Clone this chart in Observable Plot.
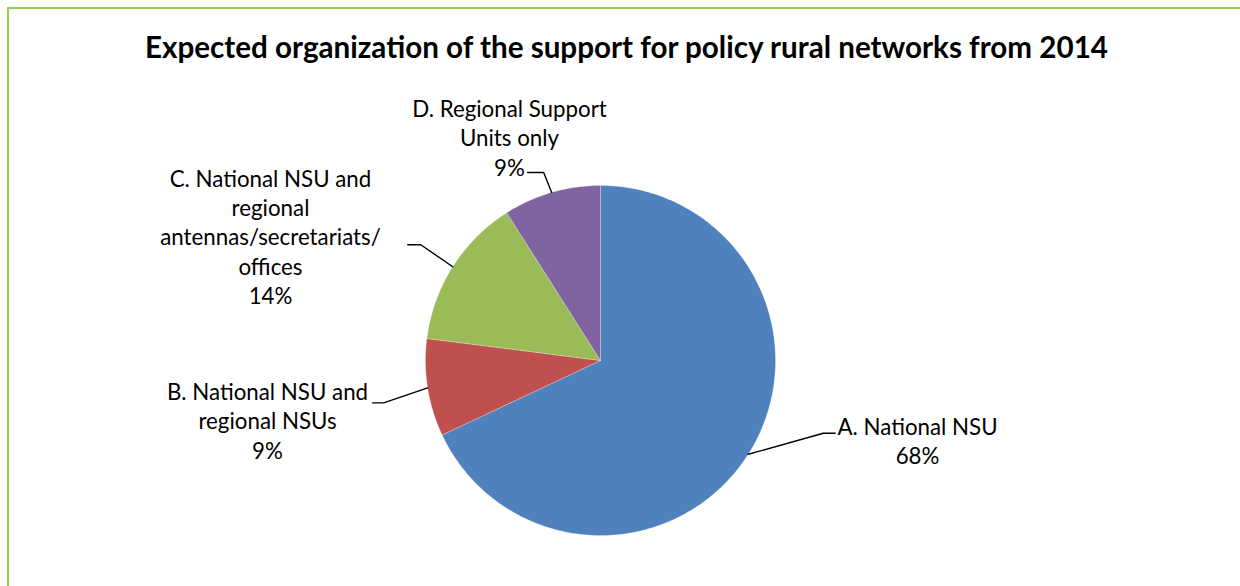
<!DOCTYPE html>
<html><head><meta charset="utf-8">
<script src="https://cdn.jsdelivr.net/npm/d3@7"></script>
<script src="https://cdn.jsdelivr.net/npm/@observablehq/plot@0.6"></script>
<style>
html,body{margin:0;padding:0;background:#fff;overflow:hidden;}
#wrap{position:relative;width:1240px;height:586px;overflow:hidden;font-family:Lato,sans-serif;}
#frame{position:absolute;left:7px;top:7px;width:1400px;height:800px;border:2px solid #92D050;box-sizing:border-box;pointer-events:none;}
#title{height:80px;box-sizing:border-box;padding-top:29px;padding-left:13px;text-align:center;font-weight:bold;font-size:29.6px;color:#000;line-height:36px;white-space:nowrap;}
#chart svg{display:block;}
</style></head><body>
<div id="wrap"><div id="frame"></div>
<div id="title">Expected organization of the support for policy rural networks from 2014</div>
<div id="chart"></div></div>
<script>
// ---- data ----
const categories = ["A. National NSU", "B. National NSU and regional NSUs", "C. National NSU and regional antennas/secretariats/offices", "D. Regional Support Units only"];
const labelLines = ["A. National NSU", "B. National NSU and\nregional NSUs", "C. National NSU and\nregional\nantennas/secretariats/\noffices", "D. Regional Support\nUnits only"];
const values = [68, 9, 14, 9];
const pctLabels = ["68%", "9%", "14%", "9%"];

// ---- style / layout ----
const colors = ["#4F81BD", "#C0504D", "#9BBB59", "#8064A2"];
const R = 175;
// leader elbow offset from slice edge midpoint, horizontal tail length, label block centre (relative to pie centre, y up)
const labelLayout = [
  {elbow: [75, 21], tail: 12, text: [317, -79.5]},
  {elbow: [-44, -15], tail: -11, text: [-333, -59.5]},
  {elbow: [-32, 22], tail: -13, text: [-330, 124.5]},
  {elbow: [-8, 20], tail: -16, text: [-91, 223.5]}
];

const data = categories.map((c, i) => ({cat: c, value: values[i], label: labelLines[i] + "\n" + pctLabels[i]}));
const arcs = d3.pie().sort(null).value(d => d.value)(data);

const slicePts = arcs.flatMap(p => {
  const n = Math.max(2, Math.ceil((p.endAngle - p.startAngle) / (Math.PI / 180)));
  const pts = [{key: p.data.cat, x: 0, y: 0}];
  for (let i = 0; i <= n; i++) {
    const a = p.startAngle + (p.endAngle - p.startAngle) * i / n;
    pts.push({key: p.data.cat, x: R * Math.sin(a), y: R * Math.cos(a)});
  }
  pts.push({key: p.data.cat, x: 0, y: 0});
  return pts;
});

const leaderPts = arcs.flatMap((p, i) => {
  const a = (p.startAngle + p.endAngle) / 2;
  const ex = R * Math.sin(a), ey = R * Math.cos(a);
  const L = labelLayout[i];
  const bx = ex + L.elbow[0], by = ey + L.elbow[1];
  return [{key: p.data.cat, x: ex, y: ey}, {key: p.data.cat, x: bx, y: by}, {key: p.data.cat, x: bx + L.tail, y: by}];
});

const labels = arcs.map((p, i) => ({x: labelLayout[i].text[0], y: labelLayout[i].text[1], text: p.data.label}));

const chart = Plot.plot({
  width: 1240, height: 506, margin: 0,
  x: {domain: [-600, 640], axis: null},
  y: {domain: [-226, 280], axis: null},
  color: {domain: categories, range: colors},
  style: {background: "transparent", fontFamily: "Lato, sans-serif"},
  marks: [
    Plot.line(slicePts, {x: "x", y: "y", z: "key", fill: "key", stroke: "white", strokeWidth: 0.4, strokeOpacity: 0.6}),
    Plot.line(leaderPts, {x: "x", y: "y", z: "key", stroke: "black", strokeWidth: 1.4}),
    Plot.text(labels, {x: "x", y: "y", text: "text", fontSize: 22.3, lineHeight: 1.314, lineAnchor: "middle", textAnchor: "middle", fill: "black"})
  ]
});
document.getElementById("chart").appendChild(chart);
</script>
</body></html>
